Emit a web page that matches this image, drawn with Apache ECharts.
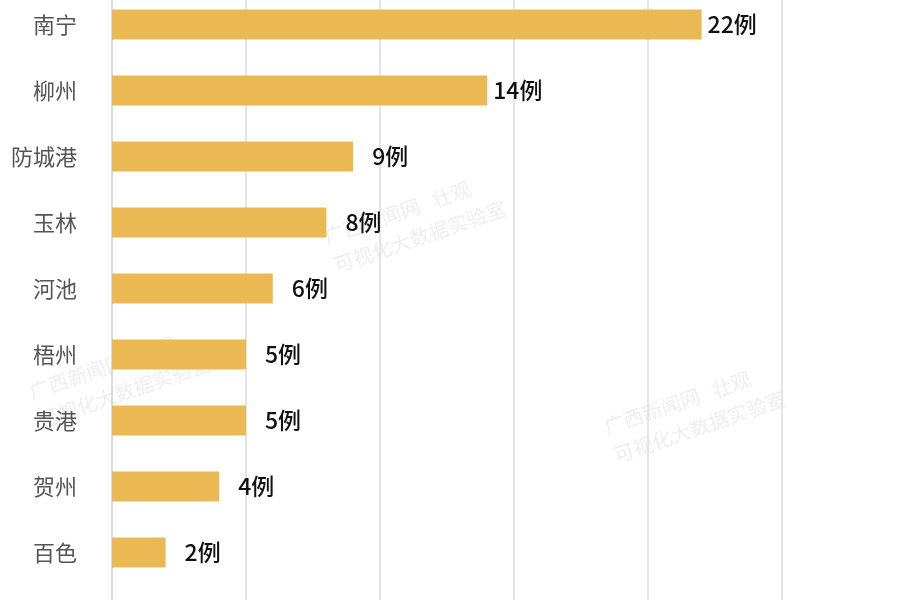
<!DOCTYPE html>
<html>
<head>
<meta charset="utf-8">
<script src="https://cdn.jsdelivr.net/npm/echarts@6/dist/echarts.min.js"></script>
<style>html,body{margin:0;padding:0;background:#fff}#c{width:900px;height:600px}</style>
</head>
<body>
<div id="c"></div>
<script>
var categories = ['南宁', '柳州', '防城港', '玉林', '河池', '梧州', '贵港', '贺州', '百色', ''];
var values = [22, 14, 9, 8, 6, 5, 5, 4, 2, null];
var unit = '例';
var xMax = 25;
var xInterval = 5;

var chart = echarts.init(document.getElementById('c'), null, {renderer: 'canvas'});
var seriesData = values.map(function (v) {
  return {
    value: v,
    label: { distance: (v !== null && v < 10) ? 19 : 6 }
  };
});
var wm = '广西新闻网   壮观\n可视化大数据实验室';
chart.setOption({
  backgroundColor: '#ffffff',
  animation: false,
  grid: { left: 112, right: 118, top: -8.5, height: 660, containLabel: false, outerBoundsMode: 'none' },
  xAxis: {
    type: 'value', min: 0, max: xMax, interval: xInterval,
    axisLabel: { show: false },
    axisLine: { show: false },
    axisTick: { show: false },
    splitLine: { show: true, lineStyle: { color: '#dcdcdc', width: 1.5 } }
  },
  yAxis: {
    type: 'category', data: categories, inverse: true,
    axisLine: { show: true, lineStyle: { color: '#d6d6d6', width: 1.5 } },
    axisTick: { show: false },
    axisLabel: { margin: 35, color: '#555555', fontSize: 22, fontFamily: 'Noto Sans CJK SC' }
  },
  graphic: [
    { type: 'text', left: 320, top: 165, rotation: 0.33, z: 0, silent: true,
      style: { text: wm, fill: 'rgba(200,200,205,0.3)', font: '20px "Noto Sans CJK SC"', lineHeight: 30 } },
    { type: 'text', left: 25, top: 320, rotation: 0.33, z: 0, silent: true,
      style: { text: wm, fill: 'rgba(200,200,205,0.3)', font: '20px "Noto Sans CJK SC"', lineHeight: 30 } },
    { type: 'text', left: 600, top: 355, rotation: 0.33, z: 0, silent: true,
      style: { text: wm, fill: 'rgba(200,200,205,0.3)', font: '20px "Noto Sans CJK SC"', lineHeight: 30 } }
  ],
  series: [{
    type: 'bar',
    data: seriesData,
    barWidth: 30,
    itemStyle: { color: '#EBB954' },
    label: {
      show: true, position: 'right', color: '#111111', fontSize: 23,
      fontFamily: 'Noto Sans CJK SC', fontWeight: 500,
      formatter: function (p) { return p.value == null ? '' : p.value + unit; }
    }
  }]
});
</script>
</body>
</html>
